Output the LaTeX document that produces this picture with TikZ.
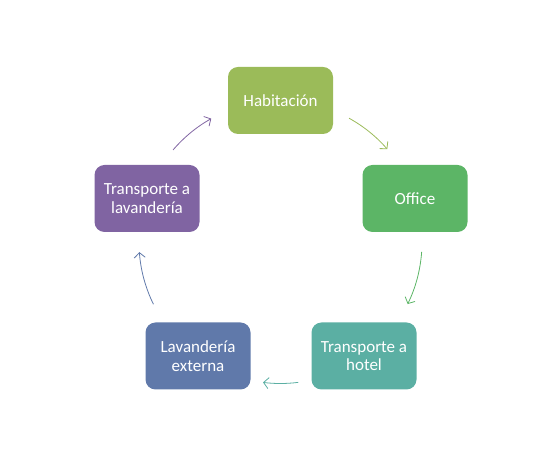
\documentclass[tikz,border=0pt]{standalone}
\usepackage{fontspec}
\setmainfont{Carlito}
\usetikzlibrary{arrows.meta,calc}

\definecolor{cHab}{HTML}{9BBB59}
\definecolor{cOff}{HTML}{5CB566}
\definecolor{cHot}{HTML}{5BAFA3}
\definecolor{cLav}{HTML}{6079AA}
\definecolor{cTrl}{HTML}{8064A2}

\begin{document}
\begin{tikzpicture}[x=1pt,y=1pt,
    box/.style={rounded corners=10pt,minimum width=105pt,minimum height=67pt,
      inner sep=2pt,align=center,text=white,font=\fontsize{17}{18.5}\selectfont},
    cyc/.style={line width=0.8pt,-{Straight Barb[length=5pt,width=11pt]}}]
  \useasboundingbox (0,0) rectangle (560,468);
  \coordinate (c) at (280.5,226);
  \node[box,fill=cHab] (hab) at (280.5,367.5) {Habitación};
  \node[box,fill=cOff] (off) at (415,269.5) {Office};
  \node[box,fill=cHot] (hot) at (364,112) {Transporte a\\hotel};
  \node[box,fill=cLav] (lav) at (198,112) {Lavandería\\externa};
  \node[box,fill=cTrl] (trl) at (147,269.5) {Transporte a\\lavandería};
  % arrows along the circle
  \draw[cyc,cHab] ($(c)+(61:141.5)$) arc[start angle=61,end angle=41,radius=141.5];
  \draw[cyc,cOff] ($(c)+(-4:141.5)$) arc[start angle=-4,end angle=-26,radius=141.5];
  \draw[cyc,cHot] ($(c)+(-82.8:141.5)$) arc[start angle=-82.8,end angle=-97.1,radius=141.5];
  \draw[cyc,cLav] ($(c)+(-153.9:141.5)$) arc[start angle=-153.9,end angle=-175.9,radius=141.5];
  \draw[cyc,cTrl] ($(c)+(139.4:141.5)$) arc[start angle=139.4,end angle=119.3,radius=141.5];
\end{tikzpicture}
\end{document}
